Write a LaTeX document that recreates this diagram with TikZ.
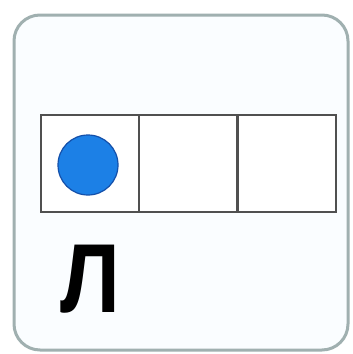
\documentclass[tikz,border=0pt]{standalone}
\usepackage{fontspec}
\setmainfont{Liberation Sans}
\definecolor{framec}{RGB}{160,176,176}
\definecolor{dotfill}{RGB}{28,128,230}
\definecolor{dotedge}{RGB}{20,80,170}
\definecolor{cellc}{RGB}{80,80,80}
\begin{document}
\begin{tikzpicture}[x=1pt,y=-1pt,
  frame/.style={draw=framec, line width=3pt, rounded corners=26pt, fill=cyan!2},
  cell/.style={draw=cellc, line width=2.6pt, fill=white, minimum width=98pt, minimum height=97pt, inner sep=0pt},
  dot/.style={circle, fill=dotfill, draw=dotedge, line width=1.2pt, minimum size=60pt, inner sep=0pt},
  letter/.style={font=\bfseries\fontsize{98}{98}\selectfont, inner sep=0pt, anchor=base west, xscale=0.87}]
\useasboundingbox (0,0) rectangle (353,354);
\fill[white] (0,0) rectangle (353,354);
\draw[frame] (14,15) rectangle (348,350);
\node[cell] (c1) at (90,163.5) {};
\node[cell] (c2) at (188,163.5) {};
\node[cell] (c3) at (287,163.5) {};
\node[dot] (d) at (88,165) {};
\node[letter] (l) at (60,312) {Л};
\end{tikzpicture}
\end{document}
